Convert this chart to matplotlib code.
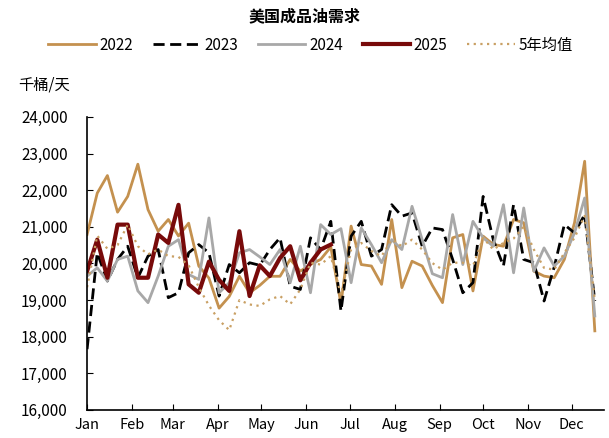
import numpy as np
import matplotlib
matplotlib.use("Agg")
import matplotlib.pyplot as plt

plt.rcParams['font.family'] = ['Noto Sans CJK SC', 'DejaVu Sans']

# weekly demand, thousand barrels per day
y2022 = [20790, 21920, 22400, 21400, 21830, 22710, 21470, 20880, 21200, 20750,
         21100, 19930, 19600, 18780, 19100, 19650, 19200, 19400, 19650, 19650,
         20110, 19790, 19970, 20110, 20450, 18900, 21020, 19970, 19930, 19430,
         21200, 19340, 20060, 19930, 19400, 18930, 20700, 20790, 19250, 20745,
         20520, 20470, 21200, 21110, 19790, 19655, 19610, 20110, 21110, 22790,
         18160]
y2023 = [17660, 20290, 19520, 20110, 20470, 19610, 20200, 20380, 19065, 19200,
         20290, 20515, 20290, 19110, 19970, 19745, 20020, 19950, 20380, 20700,
         19380, 19290, 20700, 20380, 21150, 18700, 20745, 21150, 20200, 20380,
         21605, 21290, 21380, 20470, 20970, 20925, 20110, 19200, 19475, 21830,
         20650, 19930, 21605, 20110, 20020, 18975, 19900, 21060, 20835, 21333,
         18975]
y2024 = [19655, 19880, 19520, 20110, 20200, 19250, 18930, 19655, 20470, 20650,
         19700, 19565, 21243, 19200, 19475, 20290, 20380, 20180, 19970, 20380,
         19475, 20470, 19200, 21060, 20790, 20950, 19475, 20970, 20515, 20020,
         20650, 20380, 21560, 20650, 19720, 19610, 21335, 19970, 21150, 20700,
         20470, 21605, 19745, 21515, 19790, 20425, 19930, 20200, 20835, 21787,
         18567]
y2025 = [19790, 20650, 19610, 21060, 21060, 19610, 19610, 20790, 20560, 21600,
         19430, 19200, 20050, 19550, 19250, 20880, 19110, 19950, 19655, 20150,
         20470, 19540, 20020, 20380, 20515]
avg5 = [19350, 20760, 20400, 20500, 21060, 20470, 20250, 20380, 20200, 20180,
        19950, 19350, 18850, 18450, 18180, 19000, 18880, 18840, 19020, 19110,
        18885, 19290, 20020, 19970, 20200, 19150, 20380, 20560, 20340, 20200,
        20650, 20470, 20650, 20380, 20010, 19830, 20020, 20020, 19930, 20700,
        20380, 20560, 20680, 21000, 20380, 19880, 19830, 20290, 20700, 21300,
        19000]

month_labels = ['Jan', 'Feb', 'Mar', 'Apr', 'May', 'Jun',
                'Jul', 'Aug', 'Sep', 'Oct', 'Nov', 'Dec']
month_days = [0, 31, 59, 90, 120, 151, 181, 212, 243, 273, 304, 334]

weeks = np.arange(len(y2022)) * 7

fig = plt.figure(figsize=(6.09, 4.38), dpi=100)
ax = fig.add_axes([0.143, 0.064, 0.848, 0.669])

ax.plot(weeks, y2022, color='#C4914F', lw=2.0, label='2022')
ax.plot(weeks, y2023, color='black', lw=2.0, ls=(0, (4, 2)), label='2023')
ax.plot(weeks, y2024, color='#A8A8A8', lw=2.0, label='2024')
ax.plot(weeks[:len(y2025)], y2025, color='#780A0A', lw=3.0, label='2025')
ax.plot(weeks, avg5, color='#C9A064', lw=1.6, ls=(0, (1, 2)), label='5年均值')

ax.set_xlim(0, 356)
ax.set_ylim(16000, 24000)
ax.set_yticks(np.arange(16000, 24001, 1000))
ax.set_yticklabels([f'{v:,}' for v in range(16000, 24001, 1000)])
ax.set_xticks(month_days)
ax.set_xticklabels(month_labels)
ax.tick_params(direction='in', length=4, labelsize=11, colors='black')
ax.tick_params(axis='x', pad=6, labelsize=10.5)
ax.tick_params(axis='y', pad=14)

for s in ['top', 'right']:
    ax.spines[s].set_visible(False)
for s in ['left', 'bottom']:
    ax.spines[s].set_linewidth(1.2)

fig.text(0.5, 0.962, '美国成品油需求', ha='center', va='center',
         fontsize=11.5, fontweight='bold')
fig.text(0.03, 0.806, '千桶/天', ha='left', va='center', fontsize=11)

fig.legend(loc='center', bbox_to_anchor=(0.51, 0.897), ncol=5, frameon=False,
           fontsize=11, handlelength=3.1, handletextpad=0.25, columnspacing=1.3)

fig.savefig('out.png', dpi=100)
